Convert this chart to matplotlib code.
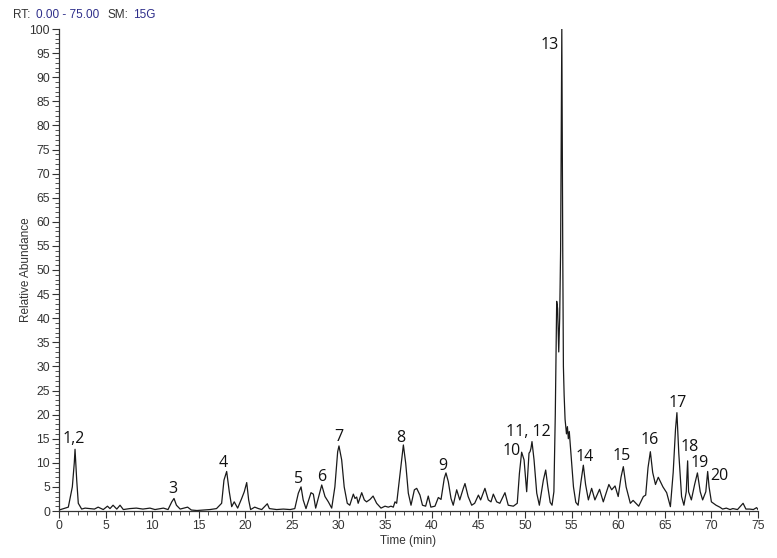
import matplotlib
matplotlib.use('Agg')
from matplotlib import pyplot as plt
from matplotlib.ticker import MultipleLocator

# chromatogram trace (retention time, relative abundance)
rt_min = [
    0.0, 1.0, 1.43, 1.64, 1.72, 1.9, 2.07, 2.43, 2.8, 3.3, 3.8, 4.2, 4.75,
    5.2, 5.47, 5.8, 6.2, 6.55, 6.9, 7.6, 8.3, 9.0, 9.76, 10.3, 11.2, 11.7,
    12.1, 12.34, 12.6, 13.0, 13.8, 14.2, 14.8, 15.5, 16.2, 16.9, 17.45,
    17.7, 17.99, 18.27, 18.53, 18.8, 19.17, 19.6, 19.88, 20.14, 20.35,
    20.56, 21.0, 21.4, 21.75, 22.35, 22.57, 23.35, 24.07, 24.8, 25.3,
    25.68, 25.97, 26.2, 26.5, 26.8, 27.04, 27.29, 27.54, 28.0, 28.19,
    28.54, 28.9, 29.26, 29.6, 29.9, 30.04, 30.33, 30.6, 30.93, 31.2,
    31.58, 31.76, 31.94, 32.1, 32.48, 32.76, 33.0, 33.37, 33.7, 34.08,
    34.55, 34.98, 35.33, 35.62, 35.87, 36.05, 36.23, 36.6, 36.95, 37.2,
    37.48, 37.77, 38.13, 38.38, 38.73, 39.0, 39.34, 39.62, 39.9, 40.34,
    40.7, 40.99, 41.34, 41.52, 41.77, 42.06, 42.3, 42.67, 43.0, 43.38,
    43.56, 43.9, 44.28, 44.6, 45.0, 45.24, 45.7, 46.06, 46.35, 46.6,
    46.96, 47.3, 47.85, 48.2, 48.75, 49.17, 49.4, 49.64, 49.9, 50.18,
    50.43, 50.54, 50.64, 50.75, 50.97, 51.26, 51.54, 51.97, 52.22, 52.45,
    52.7, 52.9, 53.1, 53.25, 53.4, 53.5, 53.62, 53.72, 53.82, 53.88,
    53.95, 54.0, 54.05, 54.12, 54.2, 54.3, 54.45, 54.55, 54.65, 54.75,
    54.85, 55.0, 55.2, 55.45, 55.7, 56.0, 56.26, 56.5, 56.8, 57.15, 57.5,
    58.0, 58.4, 59.0, 59.3, 59.66, 60.0, 60.3, 60.55, 60.85, 61.3, 61.6,
    62.2, 62.7, 62.95, 63.2, 63.45, 63.7, 64.0, 64.3, 64.8, 65.2, 65.6,
    65.9, 66.15, 66.3, 66.5, 66.8, 67.05, 67.3, 67.45, 67.55, 67.85,
    68.2, 68.5, 68.8, 69.06, 69.4, 69.6, 69.75, 70.0, 70.5, 70.9, 71.2,
    71.6, 72.0, 72.3, 72.8, 73.4, 73.7, 74.1, 74.5, 74.85, 75.0,
]
rel_abund = [
    0.2, 0.8, 5.0, 10.0, 12.8, 6.4, 1.6, 0.4, 0.6, 0.5, 0.4, 0.8, 0.3,
    1.0, 0.5, 1.2, 0.4, 1.2, 0.3, 0.5, 0.6, 0.4, 0.6, 0.3, 0.6, 0.3,
    1.9, 2.6, 1.2, 0.4, 0.8, 0.2, 0.1, 0.2, 0.3, 0.5, 1.6,
    6.4, 8.2, 4.0, 0.9, 1.9, 0.6, 2.6, 4.0, 5.9, 2.3,
    0.3, 0.8, 0.5, 0.3, 1.5, 0.5, 0.3, 0.4, 0.3, 0.5,
    3.7, 5.0, 2.3, 0.5, 2.3, 3.8, 3.5, 0.6, 4.0, 5.4,
    3.0, 1.9, 0.6, 5.0, 12.3, 13.5, 10.6, 5.0, 1.6, 1.2,
    3.5, 2.6, 2.9, 1.6, 3.8, 2.3, 1.9, 2.4, 3.1, 1.6,
    0.6, 1.0, 0.8, 1.0, 0.8, 1.9, 1.6, 7.8, 13.7, 9.9,
    3.7, 1.2, 4.4, 4.7, 3.3, 1.2, 1.0, 3.1, 0.8, 1.0,
    2.8, 2.4, 6.8, 7.9, 6.1, 2.6, 1.2, 4.4, 2.3, 4.7,
    5.7, 3.0, 1.2, 1.6, 3.3, 2.3, 4.7, 2.3, 1.9, 3.5,
    1.9, 1.6, 3.8, 1.2, 1.0, 1.6, 7.8, 12.2, 10.6, 4.0,
    12.0, 12.3, 13.0, 14.4, 10.6, 3.7, 1.2, 6.4, 8.5, 5.0,
    1.8, 1.2, 4.0, 20.0, 43.5, 42.0, 33.0, 40.0, 54.0, 76.0,
    100.0, 75.0, 54.0, 30.0, 24.0, 19.0, 16.0, 17.5, 15.0, 16.5,
    14.0, 10.0, 5.0, 1.8, 1.2, 6.0, 9.5, 5.5, 2.3, 4.7, 2.3,
    4.5, 1.9, 5.5, 4.4, 5.2, 3.0, 7.0, 9.2, 5.0, 1.6, 2.2,
    1.0, 3.0, 3.3, 9.0, 12.3, 8.0, 5.5, 7.0, 5.0, 3.8, 0.9,
    8.0, 17.0, 20.4, 12.0, 3.0, 1.2, 4.0, 10.4, 4.0, 2.3,
    5.5, 7.9, 4.0, 2.3, 4.0, 8.2, 5.0, 1.9, 1.2, 0.8, 0.4,
    0.6, 0.3, 0.5, 0.3, 1.6, 0.4, 0.4, 0.3, 0.7, 0.3,
]

# peak annotations
peak_labels = ['1,2', '3', '4', '5', '6', '7', '8', '9', '10', '11, 12',
               '13', '14', '15', '16', '17', '18', '19', '20']
label_rt = [1.6, 12.2, 17.6, 25.7, 28.2, 29.97, 36.7, 41.2, 48.6, 50.35,
            52.6, 56.4, 60.4, 63.4, 66.4, 67.7, 68.7, 70.9]
label_abund = [14.9, 4.6, 10.0, 6.6, 7.0, 15.4, 15.2, 9.3, 12.5, 16.3,
               96.7, 11.3, 11.4, 14.7, 22.4, 13.3, 9.9, 7.3]

AXIS_FONT = 'Liberation Sans'
INK = '#333333'
NAVY = '#2e2e8a'

fig = plt.figure(figsize=(7.77, 5.58), dpi=100)
ax = fig.add_axes([59 / 777, 1 - 511 / 558, 699 / 777, 482 / 558])

ax.plot(rt_min, rel_abund, color='#1a1a1a', lw=0.9)

for text, x, y in zip(peak_labels, label_rt, label_abund):
    ax.text(x, y, text, ha='center', va='center', fontsize=11.5,
            family='Open Sans', color='#111111')

ax.set_xlim(0, 75)
ax.set_ylim(0, 100)
ax.xaxis.set_major_locator(MultipleLocator(5))
ax.xaxis.set_minor_locator(MultipleLocator(1))
ax.yaxis.set_major_locator(MultipleLocator(5))
ax.yaxis.set_minor_locator(MultipleLocator(1))

for side in ('top', 'right'):
    ax.spines[side].set_visible(False)
for side in ('left', 'bottom'):
    ax.spines[side].set_color(INK)
    ax.spines[side].set_linewidth(0.9)

ax.tick_params(which='major', length=5, width=0.8, color=INK,
               labelsize=8.8, labelcolor=INK, pad=1.5)
ax.tick_params(which='minor', length=3, width=0.6, color=INK)
for lab in ax.get_xticklabels() + ax.get_yticklabels():
    lab.set_family(AXIS_FONT)

ax.set_xlabel('Time (min)', family=AXIS_FONT, fontsize=8.5, color=INK,
              labelpad=2)
ax.set_ylabel('Relative Abundance', family=AXIS_FONT, fontsize=8.5,
              color=INK, labelpad=-2)

# instrument header, black keys with blue values
header = [('RT:', 13, INK), ('0.00 - 75.00', 36, NAVY),
          ('SM:', 107, INK), ('15G', 133, NAVY)]
for text, px, col in header:
    fig.text(px / 777, 1 - 15 / 558, text, ha='left', va='center',
             family=AXIS_FONT, fontsize=8.5, color=col)

plt.savefig('out.png', dpi=100)
